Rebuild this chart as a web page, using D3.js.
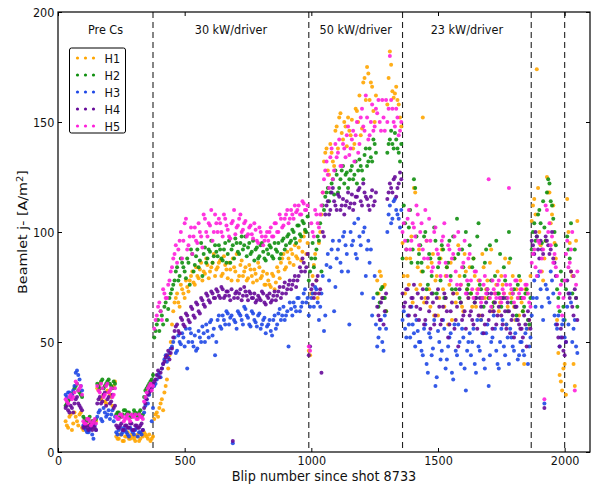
<!DOCTYPE html>
<html>
<head>
<meta charset="utf-8">
<script src="https://cdn.jsdelivr.net/npm/d3@7"></script>
<style>
  body { margin: 0; background: #fff; }
  svg { display: block; font-family: "DejaVu Sans", sans-serif; }
</style>
</head>
<body>
<div id="chart"></div>
<script>
// beamlet current density, every 10 blips,
// two readings per 10 blips (at +0 and +5)
const firstBlip = 30;
const secondBlip = 35;
const blipStep = 10;

const h1 = [
  14, 11, 17, 13, 16, 12, 18, 10, 14, 12, 13, 11, 14, 28, 24, 26, 22, 27, 25, 30,
  7, 6, 8, 5, 7, 6, 8, 6, 7, 5, 8, 9, 7, 8, 6, 15, 18, 20, 24, 27,
  33, 44, 58, 68, 72, 66, 74, 70, 75, 78, 82, 76, 80, 83, 78, 81, 85, 82, 86, 80,
  84, 87, 81, 85, 79, 83, 88, 82, 78, 85, 80, 84, 79, 83, 77, 81, 86, 79, 82, 76,
  78, 75, 80, 77, 82, 86, 90, 84, 88, 92, 85, 89, 93, 87, 98, 90, 46, 72, 85, 78,
  95, 108, 132, 138, 126, 136, 130, 148, 152, 145, 150, 139, 146, 151, 140, 155, 162, 147, 170, 175,
  160, 166, 150, 78, 82, 70, 76, 158, 182, 164, 163, 160, 152, 95, 72, 80, 88, 68, 118, 84,
  76, 152, 70, 84, 66, 90, 78, 62, 88, 74, 80, 58, 86, 72, 68, 94, 76, 64, 82, 70,
  72, 88, 66, 78, 60, 84, 74, 70, 92, 68, 76, 64, 80, 72, 58, 86, 70, 66, 74, 62,
  68, 40, 72, 60, 105, 115, 174, 100, 82, 88, 125, 118, 108, 95, 60, 35, 28, 40, 115, 95,
  80, 30, 105
];
const h1b = [
  12, 16, 10, 18, 14, 17, 11, 13, 15, 12, 14, 13, 29, 31, 25, 23, 28, 26, 21, 32,
  6, 8, 5, 7, 9, 6, 7, 5, 8, 6, 7, 8, 6, 5, 7, 17, 16, 22, 19, 30,
  38, 50, 64, 70, 68, 76, 72, 78, 73, 80, 77, 84, 79, 86, 82, 88, 79, 84, 90, 83,
  86, 80, 89, 83, 86, 78, 84, 90, 80, 87, 82, 78, 85, 80, 83, 78, 84, 80, 76, 81,
  76, 81, 74, 84, 79, 88, 83, 91, 86, 90, 94, 88, 96, 91, 100, 95, 44, 80, 90, 70,
  100, 118, 136, 128, 140, 132, 146, 138, 154, 142, 148, 152, 144, 138, 156, 150, 144, 168, 160, 172,
  168, 155, 162, 72, 80, 75, 64, 170, 176, 161, 166, 158, 148, 80, 88, 76, 98, 120, 74, 92,
  82, 68, 96, 74, 86, 62, 80, 70, 92, 66, 84, 76, 60, 88, 72, 80, 66, 90, 74, 84,
  66, 80, 74, 62, 90, 70, 78, 86, 64, 72, 82, 68, 76, 88, 66, 72, 80, 60, 70, 78,
  64, 74, 56, 80, 112, 108, 120, 94, 78, 96, 118, 104, 112, 88, 45, 32, 38, 26, 100, 82,
  40, 96
];
const h2 = [
  21, 23, 25, 27, 30, 28, 26, 16, 14, 15, 13, 14, 15, 30, 32, 29, 31, 33, 30, 32,
  17, 18, 16, 19, 17, 18, 16, 19, 17, 18, 16, 25, 29, 31, 33, 52, 58, 55, 62, 66,
  60, 70, 74, 78, 84, 80, 86, 82, 88, 76, 90, 85, 92, 87, 80, 93, 88, 91, 86, 94,
  89, 92, 87, 95, 90, 86, 94, 97, 91, 95, 92, 98, 93, 90, 96, 92, 88, 94, 91, 87,
  90, 93, 88, 92, 95, 90, 97, 94, 99, 96, 100, 95, 103, 98, 104, 100, 78, 88, 84, 92,
  96, 82, 110, 118, 114, 122, 117, 126, 120, 128, 122, 127, 124, 130, 126, 122, 133, 128, 135, 130,
  138, 132, 140, 72, 68, 75, 70, 136, 142, 140, 145, 138, 132, 88, 104, 96, 110, 92, 120, 86,
  94, 82, 100, 76, 88, 72, 96, 84, 78, 92, 70, 86, 80, 98, 74, 90, 68, 84, 100, 76,
  72, 88, 70, 104, 74, 66, 92, 70, 78, 68, 96, 72, 66, 84, 70, 100, 68, 74, 62, 80,
  70, 66, 74, 58, 92, 104, 98, 110, 95, 102, 118, 122, 112, 100, 74, 64, 78, 60, 98, 88,
  72, 92, 66
];
const h2b = [
  22, 24, 26, 29, 31, 27, 25, 15, 14, 16, 14, 13, 31, 29, 33, 30, 32, 31, 29, 31,
  18, 16, 17, 19, 18, 16, 17, 18, 16, 19, 17, 28, 30, 32, 35, 55, 60, 64, 58, 68,
  65, 72, 76, 82, 78, 88, 84, 79, 86, 92, 82, 89, 84, 95, 90, 86, 92, 96, 89, 91,
  94, 88, 92, 86, 96, 92, 88, 95, 90, 98, 94, 89, 95, 91, 87, 93, 89, 95, 88, 92,
  94, 89, 95, 91, 88, 96, 92, 98, 95, 101, 97, 103, 99, 105, 101, 107, 82, 95, 88, 98,
  104, 112, 116, 120, 118, 124, 128, 118, 124, 130, 126, 120, 128, 124, 132, 128, 130, 124, 138, 132,
  134, 142, 136, 66, 74, 70, 64, 140, 146, 138, 142, 136, 140, 112, 92, 102, 86, 124, 98, 90,
  86, 98, 74, 90, 80, 102, 72, 88, 94, 70, 84, 96, 74, 88, 106, 70, 92, 80, 74, 94,
  84, 68, 98, 76, 70, 86, 74, 94, 66, 80, 72, 90, 70, 78, 64, 88, 72, 66, 76, 70,
  64, 72, 60, 70, 100, 96, 108, 104, 114, 96, 124, 114, 106, 94, 70, 82, 66, 74, 92, 104,
  80, 70
];
const h3 = [
  26, 27, 25, 28, 36, 35, 30, 12, 10, 9, 11, 6, 10, 18, 15, 20, 16, 19, 17, 14,
  9, 10, 8, 11, 9, 7, 10, 8, 11, 9, 8, 18, 24, 26, 14, 30, 33, 36, 38, 42,
  41, 45, 48, 52, 46, 50, 54, 48, 38, 56, 50, 53, 47, 52, 57, 50, 55, 59, 53, 44,
  60, 57, 62, 58, 63, 61, 4, 59, 64, 62, 58, 65, 61, 57, 63, 59, 62, 56, 60, 54,
  58, 55, 60, 56, 63, 60, 66, 62, 48, 65, 68, 64, 70, 66, 72, 68, 62, 70, 66, 74,
  60, 72, 55, 85, 78, 92, 64, 88, 96, 82, 100, 90, 58, 94, 104, 88, 98, 72, 102, 92,
  86, 62, 80, 48, 56, 50, 62, 100, 112, 106, 115, 108, 102, 60, 56, 62, 52, 58, 48, 55,
  50, 44, 58, 36, 52, 47, 30, 55, 42, 60, 38, 48, 54, 33, 46, 58, 40, 52, 28, 50,
  44, 56, 36, 48, 60, 42, 54, 30, 50, 62, 46, 38, 56, 48, 58, 40, 52, 46, 60, 44,
  50, 44, 56, 48, 62, 78, 70, 82, 66, 22, 74, 68, 78, 62, 56, 48, 58, 52, 66, 72,
  50, 60, 45
];
const h3b = [
  25, 27, 26, 30, 37, 33, 28, 11, 9, 10, 8, 12, 16, 19, 14, 18, 17, 15, 19, 16,
  8, 11, 9, 10, 8, 11, 9, 10, 7, 9, 10, 21, 22, 28, 20, 31, 35, 34, 40, 44,
  43, 47, 50, 45, 53, 49, 52, 56, 50, 54, 48, 46, 55, 50, 54, 58, 52, 60, 56, 50,
  62, 56, 60, 64, 58, 62, 60, 56, 63, 60, 66, 62, 58, 64, 60, 57, 63, 58, 61, 57,
  60, 53, 62, 58, 65, 62, 60, 64, 68, 62, 66, 70, 64, 68, 74, 70, 66, 72, 75, 68,
  66, 80, 62, 90, 84, 96, 75, 92, 86, 98, 94, 82, 100, 96, 90, 106, 94, 100, 80, 96,
  92, 70, 58, 52, 60, 46, 56, 108, 104, 114, 110, 106, 110, 64, 52, 58, 66, 54, 60, 50,
  46, 56, 40, 54, 44, 60, 34, 50, 46, 56, 42, 52, 36, 58, 44, 50, 56, 38, 46, 54,
  50, 40, 60, 46, 54, 38, 58, 44, 52, 56, 40, 50, 60, 44, 52, 56, 48, 54, 42, 50,
  46, 54, 40, 52, 70, 66, 80, 74, 60, 76, 70, 82, 72, 58, 62, 52, 60, 50, 58, 68,
  56, 48
];
const h4 = [
  20, 19, 21, 18, 24, 22, 20, 11, 12, 10, 11, 12, 10, 24, 22, 26, 21, 25, 23, 20,
  12, 11, 13, 10, 12, 11, 13, 10, 12, 11, 13, 20, 24, 27, 29, 32, 35, 34, 38, 41,
  44, 42, 47, 55, 58, 54, 60, 57, 62, 59, 65, 61, 67, 63, 69, 66, 71, 68, 72, 70,
  73, 70, 74, 71, 73, 69, 5, 72, 70, 74, 71, 73, 69, 72, 70, 68, 71, 69, 72, 67,
  70, 68, 71, 69, 73, 70, 75, 72, 76, 74, 78, 75, 80, 82, 86, 84, 44, 74, 70, 78,
  72, 36, 98, 112, 108, 118, 114, 110, 116, 112, 108, 114, 111, 117, 113, 116, 120, 112, 118, 115,
  110, 119, 114, 66, 60, 70, 64, 115, 122, 118, 125, 120, 127, 72, 68, 74, 66, 70, 62, 72,
  65, 74, 60, 70, 56, 68, 62, 74, 58, 66, 70, 52, 64, 72, 60, 48, 68, 62, 56, 70,
  64, 58, 70, 62, 66, 54, 68, 60, 72, 64, 58, 66, 62, 70, 56, 64, 60, 52, 66, 58,
  56, 62, 48, 60, 96, 90, 98, 88, 92, 20, 96, 90, 100, 86, 58, 48, 52, 44, 78, 70,
  66, 74, 60
];
const h4b = [
  21, 18, 20, 22, 25, 21, 19, 12, 11, 12, 10, 11, 22, 25, 23, 27, 24, 22, 26, 21,
  11, 12, 10, 12, 11, 13, 10, 12, 11, 12, 10, 22, 26, 28, 31, 33, 37, 36, 40, 43,
  46, 45, 52, 57, 55, 61, 58, 63, 60, 66, 62, 68, 64, 70, 67, 72, 69, 73, 70, 74,
  71, 75, 70, 73, 71, 74, 70, 73, 72, 69, 75, 71, 73, 70, 72, 69, 70, 73, 68, 71,
  72, 69, 73, 71, 75, 72, 77, 74, 78, 76, 80, 78, 84, 88, 82, 90, 48, 76, 72, 80,
  74, 100, 108, 114, 110, 120, 112, 117, 110, 115, 112, 118, 113, 110, 116, 119, 114, 122, 116, 112,
  116, 112, 118, 62, 68, 58, 72, 118, 120, 124, 116, 122, 124, 66, 74, 62, 70, 76, 66, 60,
  70, 58, 68, 64, 72, 58, 70, 66, 60, 72, 64, 58, 68, 56, 66, 74, 60, 64, 72, 62,
  60, 68, 56, 70, 62, 58, 72, 64, 56, 68, 62, 70, 58, 64, 68, 54, 62, 66, 60, 56,
  52, 58, 64, 56, 94, 100, 92, 96, 90, 98, 94, 92, 88, 80, 52, 56, 46, 50, 72, 82,
  62, 70
];
const h5 = [
  24, 22, 26, 25, 32, 28, 30, 14, 13, 15, 12, 14, 13, 28, 31, 25, 30, 27, 29, 26,
  16, 15, 17, 14, 16, 15, 17, 16, 15, 17, 16, 23, 27, 30, 28, 56, 62, 68, 60, 72,
  70, 78, 84, 90, 86, 96, 88, 104, 92, 98, 90, 102, 95, 100, 93, 106, 98, 103, 96, 108,
  100, 104, 98, 106, 101, 97, 105, 99, 103, 108, 101, 105, 99, 103, 97, 101, 95, 100, 94, 98,
  96, 102, 98, 104, 100, 106, 103, 108, 104, 110, 106, 109, 112, 108, 113, 110, 48, 104, 98, 108,
  102, 112, 124, 132, 120, 138, 128, 134, 142, 130, 138, 144, 135, 142, 132, 150, 140, 156, 146, 152,
  144, 158, 148, 154, 150, 160, 146, 150, 180, 156, 148, 152, 146, 100, 96, 106, 92, 104, 98, 108,
  100, 92, 110, 88, 96, 84, 102, 90, 80, 98, 86, 94, 78, 90, 82, 100, 76, 86, 72, 88,
  78, 70, 82, 74, 68, 76, 72, 124, 66, 74, 70, 78, 68, 72, 76, 120, 74, 68, 78, 72,
  74, 70, 76, 68, 86, 92, 80, 95, 88, 24, 110, 104, 98, 90, 80, 72, 62, 78, 96, 86,
  100, 28, 82
];
const h5b = [
  23, 25, 24, 27, 31, 29, 26, 13, 15, 14, 13, 15, 30, 27, 29, 26, 31, 28, 25, 29,
  15, 17, 16, 15, 17, 14, 16, 17, 15, 16, 15, 25, 29, 31, 30, 60, 66, 64, 74, 70,
  76, 82, 88, 94, 92, 100, 96, 106, 94, 102, 98, 96, 104, 98, 108, 100, 104, 110, 100, 104,
  106, 100, 108, 103, 98, 104, 110, 102, 106, 100, 104, 98, 102, 99, 104, 96, 102, 98, 96, 100,
  100, 98, 104, 100, 108, 102, 106, 110, 106, 108, 112, 110, 108, 114, 110, 112, 46, 100, 110, 104,
  108, 118, 128, 126, 134, 124, 140, 136, 130, 140, 134, 148, 138, 146, 144, 136, 152, 148, 162, 142,
  150, 146, 156, 160, 146, 152, 160, 156, 160, 150, 156, 144, 150, 104, 92, 110, 96, 102, 112, 94,
  104, 88, 96, 106, 82, 100, 92, 86, 96, 104, 80, 92, 88, 98, 76, 92, 84, 96, 78, 90,
  74, 82, 72, 78, 70, 80, 74, 70, 78, 72, 76, 70, 74, 80, 70, 76, 72, 78, 70, 74,
  70, 76, 72, 66, 90, 84, 96, 82, 92, 112, 100, 94, 86, 84, 66, 76, 70, 90, 84, 92,
  80, 76
];

const seriesNames = ["H1", "H2", "H3", "H4", "H5"];
const seriesValues = [h1, h2, h3, h4, h5];
const seriesValuesB = [h1b, h2b, h3b, h4b, h5b];
const seriesColors = ["#ffa500", "#0f8f0f", "#1f48e6", "#660a99", "#ff1fdb"];

const regionBounds = [0, 375, 990, 1360, 1868];
const regionLabels = ["Pre Cs", "30 kW/driver", "50 kW/driver", "23 kW/driver"];
const dividers = [375, 990, 1360, 1868, 2000];

const xTicks = [0, 500, 1000, 1500, 2000];
const yTicks = [0, 50, 100, 150, 200];

const W = 595, H = 485;
const margin = { top: 12, right: 5, bottom: 33, left: 58 };
const iw = W - margin.left - margin.right;
const ih = H - margin.top - margin.bottom;
const squeeze = "scale(0.9,1)";

const svg = d3.select("#chart").append("svg")
  .attr("width", W).attr("height", H);
const g = svg.append("g")
  .attr("transform", "translate(" + margin.left + "," + margin.top + ")");

const x = d3.scaleLinear().domain([0, 2100]).range([0, iw]);
const y = d3.scaleLinear().domain([0, 200]).range([ih, 0]);

// region dividers
g.selectAll("line.divider").data(dividers).enter().append("line")
  .attr("class", "divider")
  .attr("x1", d => x(d)).attr("x2", d => x(d))
  .attr("y1", 0).attr("y2", ih)
  .attr("stroke", "#222").attr("stroke-width", 1.1)
  .attr("stroke-dasharray", "6,4");

// points
seriesValues.forEach(function (vals, si) {
  const pts = vals.map((v, i) => [firstBlip + i * blipStep, v])
    .concat(seriesValuesB[si].map((v, i) => [secondBlip + i * blipStep, v]));
  g.append("g").selectAll("circle").data(pts).enter().append("circle")
    .attr("cx", d => x(d[0]))
    .attr("cy", d => y(d[1]))
    .attr("r", 2)
    .attr("fill", seriesColors[si])
    .attr("fill-opacity", 0.9);
});

// region labels, centred in each region
g.selectAll("text.region").data(regionLabels).enter().append("text")
  .attr("class", "region")
  .attr("transform", (d, i) => "translate(" + x((regionBounds[i] + (regionBounds[i + 1] || dividers[3])) / 2) + ",22) " + squeeze)
  .attr("text-anchor", "middle")
  .attr("font-size", 12.5)
  .attr("fill", "#111")
  .text(d => d);

// axes, ticks pointing inward on all four sides
function styleAxis(sel) {
  sel.select(".domain").remove();
  sel.selectAll(".tick line").attr("stroke", "#000");
  sel.selectAll(".tick text").attr("font-size", 12.5).attr("fill", "#111")
    .attr("font-family", "DejaVu Sans").attr("transform", squeeze);
}
const fmt = d3.format("d");
g.append("g").attr("transform", "translate(0," + ih + ")")
  .call(d3.axisBottom(x).tickValues(xTicks).tickFormat(fmt).tickSizeInner(-4).tickSizeOuter(0).tickPadding(4))
  .call(styleAxis);
g.append("g")
  .call(d3.axisLeft(y).tickValues(yTicks).tickFormat(fmt).tickSizeInner(-4).tickSizeOuter(0).tickPadding(4))
  .call(styleAxis);
g.append("g")
  .call(d3.axisTop(x).tickValues(xTicks).tickSizeInner(-4).tickSizeOuter(0).tickFormat(""))
  .call(styleAxis);
g.append("g").attr("transform", "translate(" + iw + ",0)")
  .call(d3.axisRight(y).tickValues(yTicks).tickSizeInner(-4).tickSizeOuter(0).tickFormat(""))
  .call(styleAxis);

g.append("rect")
  .attr("width", iw).attr("height", ih)
  .attr("fill", "none").attr("stroke", "#000").attr("stroke-width", 1.2);

// axis titles
svg.append("text")
  .attr("transform", "translate(" + (margin.left + iw / 2) + ",481) " + squeeze)
  .attr("text-anchor", "middle").attr("font-size", 14.3).attr("fill", "#111")
  .text("Blip number since shot 8733");

const yl = svg.append("text")
  .attr("transform", "translate(27," + (margin.top + ih / 2) + ") rotate(-90) scale(1,0.9)")
  .attr("text-anchor", "middle").attr("font-size", 14.3).attr("fill", "#111");
yl.append("tspan").text("Beamlet j- [A/m");
yl.append("tspan").attr("dy", -5).attr("font-size", 10).text("2");
yl.append("tspan").attr("dy", 5).text("]");

// legend
const legend = svg.append("g").attr("transform", "translate(69.5,48)");
legend.append("rect")
  .attr("width", 56).attr("height", 85).attr("rx", 2)
  .attr("fill", "#fff").attr("stroke", "#000").attr("stroke-width", 1);
const entries = legend.selectAll("g.entry").data(seriesNames).enter().append("g")
  .attr("class", "entry")
  .attr("transform", (d, i) => "translate(0," + (10 + i * 17) + ")");
entries.each(function (d, i) {
  d3.select(this).selectAll("circle").data([8, 16, 24]).enter().append("circle")
    .attr("cx", c => c).attr("cy", 0).attr("r", 1.6)
    .attr("fill", seriesColors[i]);
});
entries.append("text")
  .attr("transform", "translate(35,4.5) " + squeeze)
  .attr("font-size", 12.5).attr("fill", "#111")
  .text(d => d);
</script>
</body>
</html>
